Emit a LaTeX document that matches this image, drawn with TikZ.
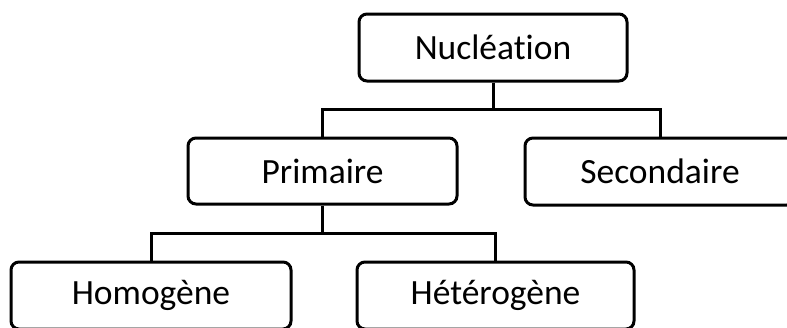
\documentclass[tikz,border=0pt]{standalone}
\usepackage{fontspec}
\setmainfont[Ligatures=NoCommon]{Carlito}
\begin{document}
\begin{tikzpicture}[x=1pt,y=-1pt,
  box/.style={draw=black,line width=3pt,rounded corners=8pt,fill=white,
    inner sep=0pt,font=\fontsize{35.5}{40}\selectfont},
  link/.style={draw=black,line width=3pt}]
\useasboundingbox (0,0) rectangle (787,327);
\clip (0,0) rectangle (787,327);
\node[box,minimum width=268pt,minimum height=67pt] (nuc) at (493,47.5) {Nucléation};
\node[box,minimum width=269pt,minimum height=66pt] (prim) at (322.5,171) {Primaire};
\node[box,minimum width=270pt,minimum height=67pt] (sec) at (660,171.5) {Secondaire};
\node[box,minimum width=280pt,minimum height=67pt] (homo) at (151,295.5) {Homogène};
\node[box,minimum width=277pt,minimum height=67pt] (hete) at (495.5,295.5) {Hétérogène};
\coordinate (j1) at (493,109);
\coordinate (j2) at (322.5,233);
\draw[link] (nuc.south) -- (j1) -| (prim.north);
\draw[link] (j1) -| (sec.north);
\draw[link] (prim.south) -- (j2) -| (homo.north);
\draw[link] (j2) -| (hete.north);
\end{tikzpicture}
\end{document}
